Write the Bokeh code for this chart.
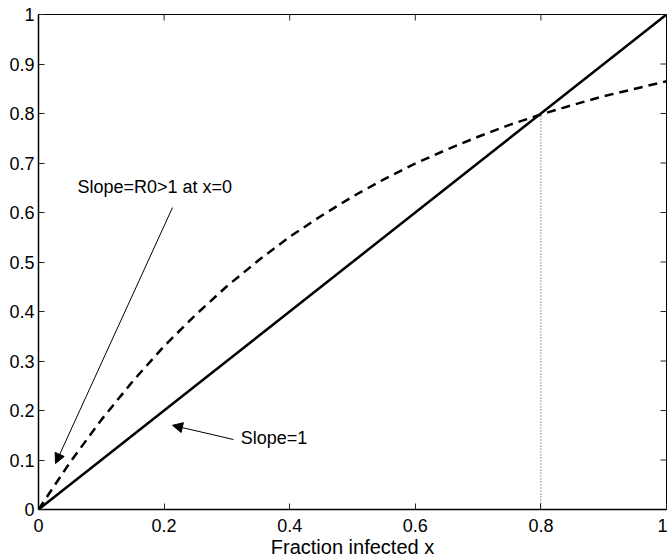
from bokeh.plotting import figure
from bokeh.models import Range1d, FixedTicker, Arrow, NormalHead, Label, CustomJSTickFormatter, ColumnDataSource
from bokeh.embed import file_html
from bokeh.resources import INLINE

# data
x_vals = [0.0, 0.1, 0.2, 0.3, 0.4, 0.5, 0.6, 0.7, 0.8, 0.9, 1.0]
line_y = [0.0, 0.1, 0.2, 0.3, 0.4, 0.5, 0.6, 0.7, 0.8, 0.9, 1.0]
curve_x = [0.0, 0.05, 0.1, 0.15, 0.2, 0.25, 0.3, 0.35, 0.4, 0.45, 0.5, 0.55, 0.6, 0.65, 0.7, 0.75, 0.8, 0.85, 0.9, 0.95, 1.0]
curve_y = [0.0, 0.095, 0.181, 0.259, 0.330, 0.393, 0.451, 0.503, 0.551, 0.593, 0.632, 0.667, 0.699, 0.727, 0.753, 0.777, 0.798, 0.817, 0.835, 0.850, 0.865]
fixed_x = 0.8
fixed_y = 0.8
yticks = [0, 0.1, 0.2, 0.3, 0.4, 0.5, 0.6, 0.7, 0.8, 0.9, 1]
xticks = [0, 0.2, 0.4, 0.6, 0.8, 1]

FONT = "Liberation Sans"
FRAME_W, FRAME_H = 628, 495
TICK_PX = 6

p = figure(width=667, height=560, output_backend="svg", toolbar_location=None,
           x_range=Range1d(0, 1), y_range=Range1d(0, 1),
           min_border_left=38, min_border_right=1, min_border_top=14, min_border_bottom=51)
p.grid.visible = False
p.outline_line_color = "black"
p.outline_line_width = 1
p.background_fill_color = "white"
p.border_fill_color = "white"

for ax in (p.xaxis[0], p.yaxis[0]):
    ax.major_tick_in = TICK_PX
    ax.major_tick_out = 0
    ax.major_tick_line_color = "#222222"
    ax.major_tick_line_width = 1
    ax.minor_tick_line_color = None
    ax.axis_line_color = "black"
    ax.axis_line_width = 1.5
    ax.major_label_text_font = FONT
    ax.major_label_text_font_size = "18px"
    ax.major_label_text_color = "black"
    ax.formatter = CustomJSTickFormatter(code="return tick.toString();")

p.xaxis[0].ticker = FixedTicker(ticks=xticks)
p.yaxis[0].ticker = FixedTicker(ticks=yticks)
p.xaxis[0].major_label_standoff = 9
p.yaxis[0].major_label_standoff = 4
p.xaxis[0].axis_label = "Fraction infected x"
p.xaxis[0].axis_label_text_font = FONT
p.xaxis[0].axis_label_text_font_size = "20px"
p.xaxis[0].axis_label_text_font_style = "normal"
p.xaxis[0].axis_label_text_color = "black"
p.xaxis[0].axis_label_standoff = 1

# inward ticks on the top and right sides, built from the tick lists
tx = TICK_PX / FRAME_W
ty = TICK_PX / FRAME_H
top_src = ColumnDataSource(dict(x=list(xticks), y0=[1.0] * len(xticks), y1=[1.0 - ty] * len(xticks)))
p.segment(x0="x", y0="y0", x1="x", y1="y1", source=top_src, line_color="#222222", line_width=1)
right_src = ColumnDataSource(dict(y=list(yticks), x0=[1.0] * len(yticks), x1=[1.0 - tx] * len(yticks)))
p.segment(x0="x0", y0="y", x1="x1", y1="y", source=right_src, line_color="#222222", line_width=1)

p.line(x_vals, line_y, line_color="black", line_width=2.5)
p.line(curve_x, curve_y, line_color="black", line_width=2.5, line_dash="9 6")
p.line([fixed_x, fixed_x], [0, fixed_y], line_color="#444444", line_width=1, line_dash="1 2")

p.add_layout(Arrow(end=NormalHead(size=10, fill_color="black", line_color="black", line_width=1),
                   x_start=0.2134, y_start=0.610, x_end=0.0271, y_end=0.0929,
                   line_color="black", line_width=1))
p.add_layout(Arrow(end=NormalHead(size=10, fill_color="black", line_color="black", line_width=1),
                   x_start=0.3105, y_start=0.1414, x_end=0.2134, y_end=0.170,
                   line_color="black", line_width=1))

p.add_layout(Label(x=0.062, y=0.652, text="Slope=R0>1 at x=0", text_font=FONT,
                   text_font_size="18px", text_baseline="middle", text_align="left", text_color="black"))
p.add_layout(Label(x=0.322, y=0.145, text="Slope=1", text_font=FONT,
                   text_font_size="18px", text_baseline="middle", text_align="left", text_color="black"))

open("out.html", "w").write(file_html(p, INLINE))
